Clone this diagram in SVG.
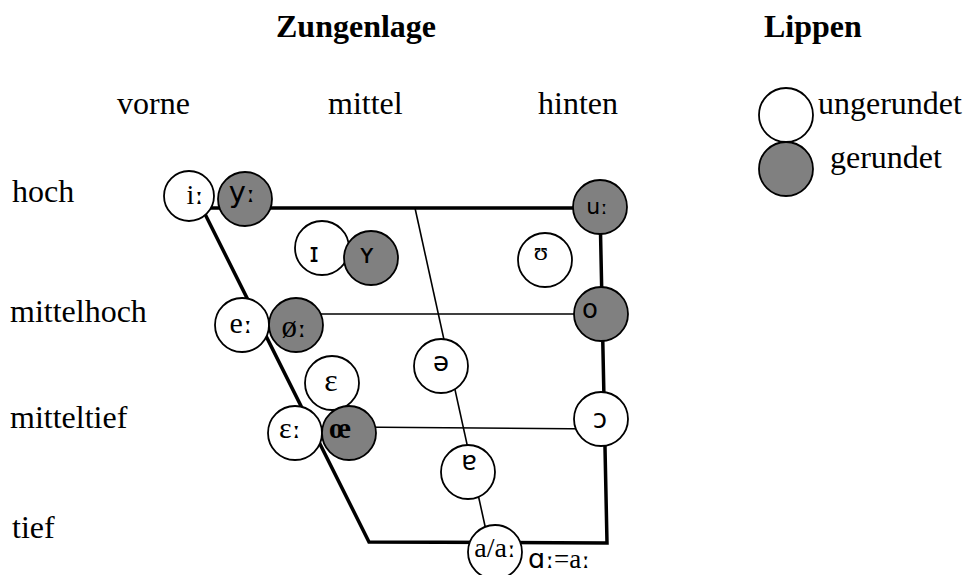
<svg xmlns="http://www.w3.org/2000/svg" width="965" height="575" viewBox="0 0 965 575">
<style>
.lbl{font-family:"Liberation Serif","DejaVu Serif",serif;font-size:32px;fill:#000}
.hdr{font-family:"Liberation Serif","DejaVu Serif",serif;font-size:32px;font-weight:bold;fill:#000}
.ser{font-family:"Liberation Serif","DejaVu Serif",serif;fill:#000}
.san{font-family:"DejaVu Sans","Liberation Sans",sans-serif;fill:#000}
.len{font-family:"DejaVu Serif","Liberation Serif",serif}
.w{fill:#fff;stroke:#000;stroke-width:1.8}
.g{fill:#808080;stroke:#000;stroke-width:1.8}
.thick{fill:none;stroke:#000;stroke-width:3.5;stroke-linejoin:miter}
.thin{fill:none;stroke:#000;stroke-width:1.6}
</style>
<rect width="965" height="575" fill="#fff"/>
<g id="labels">
<text class="hdr" x="276" y="37">Zungenlage</text>
<text class="hdr" x="764" y="37">Lippen</text>
<text class="lbl" x="117" y="114">vorne</text>
<text class="lbl" x="328" y="114">mittel</text>
<text class="lbl" x="538" y="114">hinten</text>
<text class="lbl" x="12" y="202">hoch</text>
<text class="lbl" x="10" y="322">mittelhoch</text>
<text class="lbl" x="10" y="428">mitteltief</text>
<text class="lbl" x="12" y="538">tief</text>
</g>
<g id="connectors">
<polyline class="thick" points="202,208 600,208 607,543 369,542 202,208"/>
<line class="thin" x1="296" y1="314" x2="601" y2="314"/>
<line class="thin" x1="349" y1="427" x2="601" y2="429"/>
<line class="thin" x1="415" y1="208" x2="487" y2="535"/>
</g>
<g id="node-i"><circle class="w" cx="189" cy="196" r="25"/><text class="ser" x="195" y="204" font-size="28" text-anchor="middle">i<tspan class="len" font-size="28">ː</tspan></text></g>
<g id="node-y"><circle class="g" cx="245" cy="199" r="27"/><text class="san" x="242" y="202" font-size="29" text-anchor="middle">y<tspan class="len" font-size="28">ː</tspan></text></g>
<g id="node-u"><circle class="g" cx="600" cy="207" r="27"/><text class="san" x="597" y="214" font-size="22" text-anchor="middle">u<tspan class="len" font-size="22">ː</tspan></text></g>
<g id="node-I"><circle class="w" cx="322" cy="248" r="27"/><text class="san" x="314" y="262" font-size="26" text-anchor="middle">ɪ</text></g>
<g id="node-Y"><circle class="g" cx="371" cy="258" r="27"/><text class="san" x="367" y="263" font-size="26" text-anchor="middle">ʏ</text></g>
<g id="node-U"><circle class="w" cx="545" cy="260" r="27"/><text class="ser" x="541" y="260" font-size="26" text-anchor="middle">ʊ</text></g>
<g id="node-e"><circle class="w" cx="242" cy="325" r="27"/><text class="ser" x="241" y="333" font-size="30" text-anchor="middle">e<tspan class="len" font-size="28">ː</tspan></text></g>
<g id="node-oe"><circle class="g" cx="296" cy="325" r="27"/><text class="ser" x="294" y="337" font-size="31" text-anchor="middle">ø<tspan class="len" font-size="28">ː</tspan></text></g>
<g id="node-o"><circle class="g" cx="601" cy="314" r="27"/><text class="san" x="590" y="318" font-size="26" text-anchor="middle">o</text></g>
<g id="node-schwa"><circle class="w" cx="441" cy="366" r="27"/><text class="san" x="441" y="371" font-size="26" text-anchor="middle">ə</text></g>
<g id="node-eps"><circle class="w" cx="332" cy="383" r="27"/><text class="ser" x="331" y="391" font-size="32" text-anchor="middle">ɛ</text></g>
<g id="node-epsl"><circle class="w" cx="295" cy="433" r="27"/><text class="ser" x="290" y="438" font-size="30" text-anchor="middle">ɛ<tspan class="len" font-size="28">ː</tspan></text></g>
<g id="node-oe2"><circle class="g" cx="349" cy="433" r="27"/><text class="ser" x="340" y="438" font-size="30" text-anchor="middle" font-weight="bold">œ</text></g>
<g id="node-opop"><circle class="w" cx="601" cy="419" r="27"/><text class="san" x="600" y="428" font-size="26" text-anchor="middle">ɔ</text></g>
<g id="node-turneda"><circle class="w" cx="468" cy="472" r="27"/><text class="san" x="469" y="470" font-size="26" text-anchor="middle">ɐ</text></g>
<g id="node-a"><circle class="w" cx="495" cy="552" r="27"/><text class="ser" x="495" y="557" font-size="28" text-anchor="middle">a/a<tspan class="len" font-size="26">ː</tspan></text></g>
<text id="note" x="528" y="568" font-size="27"><tspan class="san">ɑ</tspan><tspan class="len" font-size="26">ː</tspan><tspan class="ser">=a</tspan><tspan class="len" font-size="26">ː</tspan></text>
<g id="legend">
<circle class="w" cx="786" cy="115" r="27"/>
<circle class="g" cx="786" cy="169" r="27"/>
<text class="lbl" x="818" y="114">ungerundet</text>
<text class="lbl" x="830" y="168">gerundet</text>
</g>
</svg>
